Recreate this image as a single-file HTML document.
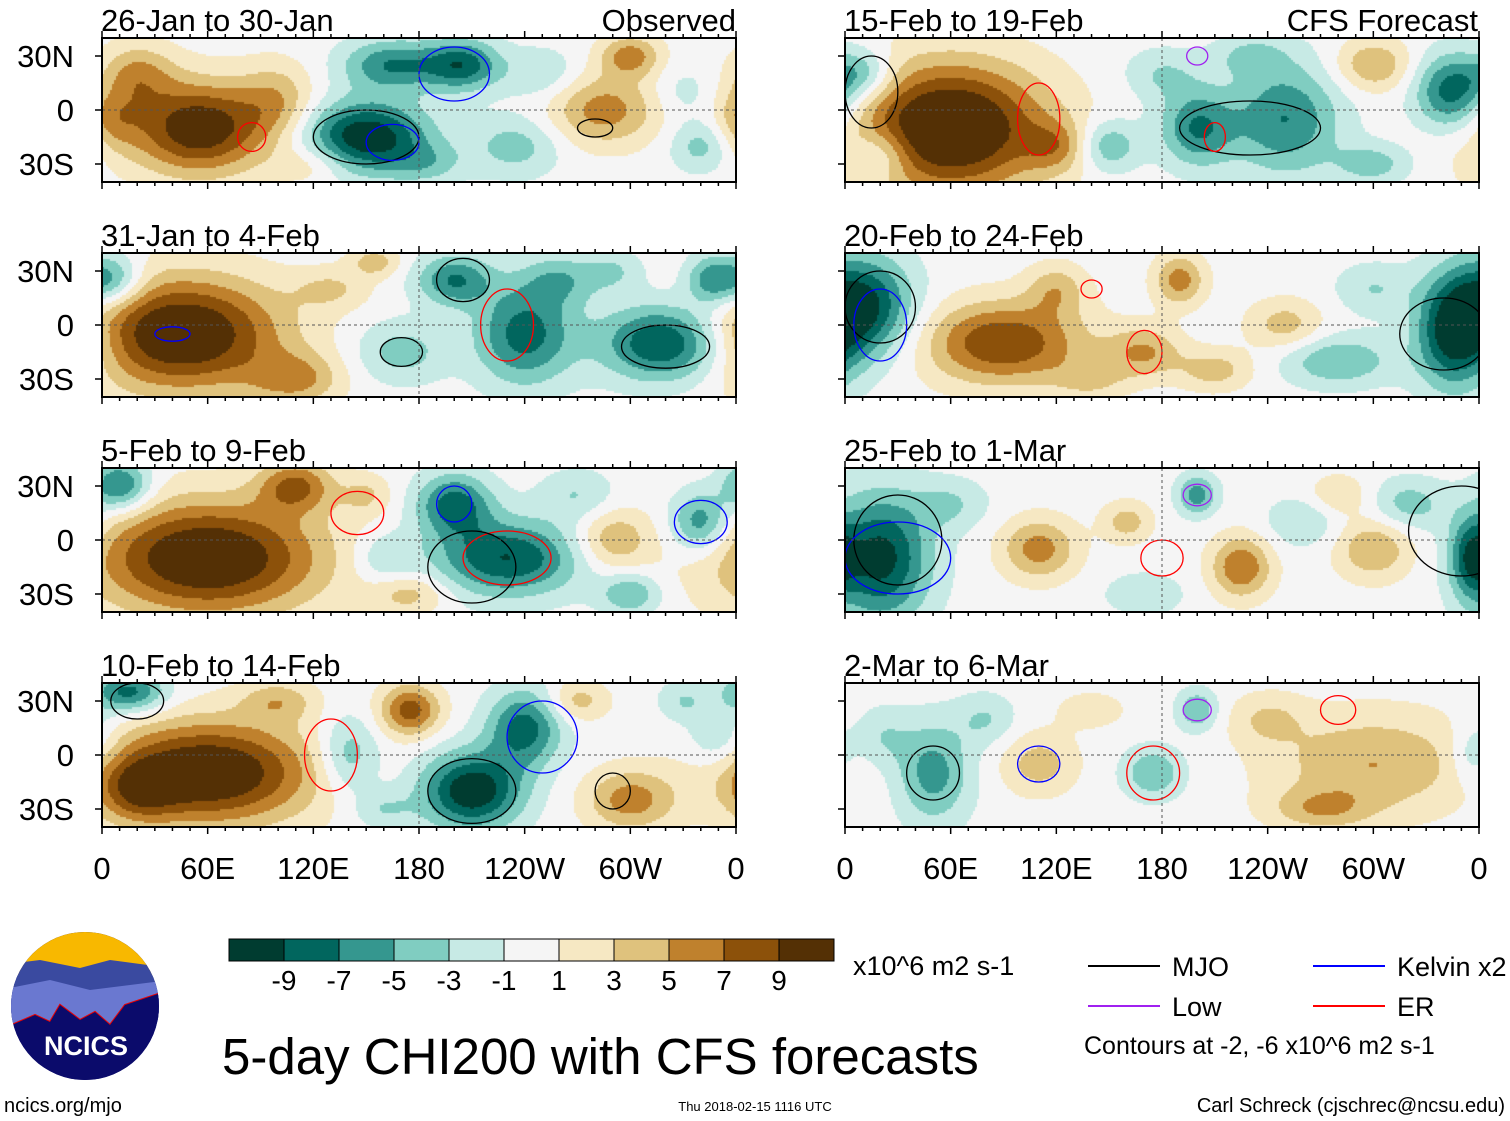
<!DOCTYPE html>
<html><head><meta charset="utf-8"><style>
body{margin:0;background:#fff;width:1510px;height:1121px;overflow:hidden;font-family:"Liberation Sans",sans-serif;}
#root{position:relative;width:1510px;height:1121px;}
</style></head><body>
<div id="root">
<svg id="svg" width="1510" height="1121" style="position:absolute;left:0;top:0"></svg>
</div>
<script>
// ---- data ----
const panelTitles = ["26-Jan to 30-Jan","31-Jan to 4-Feb","5-Feb to 9-Feb","10-Feb to 14-Feb","15-Feb to 19-Feb","20-Feb to 24-Feb","25-Feb to 1-Mar","2-Mar to 6-Mar"];
const xTickLabels = ["0","60E","120E","180","120W","60W","0"];
const xTickLons = [0,60,120,180,240,300,360];
const yTickLabels = ["30N","0","30S"];
const yTickLats = [30,0,-30];
const cbarLabels = ["-9","-7","-5","-3","-1","1","3","5","7","9"];
const cbarColors = ["#003c30","#01665e","#35978f","#80cdc1","#c7eae5","#f5f5f5","#f6e8c3","#dfc27d","#bf812d","#8c510a","#543005"];
// blobs: [lon, lat, amplitude, sigmaLon, sigmaLat]
const blobs0 = [[55,-10,11,28,18],[20,20,5,15,12],[150,-15,-11,25,14],[165,25,-7,20,10],[205,25,-8,15,10],[285,0,6,22,14],[300,30,6,12,8],[235,-20,-4,18,12],[340,-20,-4,12,10],[100,5,4,15,15],[5,-5,4,12,12],[120,-30,3,15,8],[250,20,-3,15,10],[330,10,-2,12,10],[185,-30,-3,15,8]];
const blobs1 = [[45,-5,12,40,22],[5,25,-7,12,10],[110,-30,5,18,10],[200,25,-7,15,10],[240,-5,-8,20,20],[320,-10,-10,25,15],[170,-15,-4,18,12],[155,35,4,10,6],[345,25,-6,10,10],[260,25,-4,15,10],[130,20,3,15,8],[290,30,-3,12,8]];
const blobs2 = [[60,-10,12,45,22],[10,30,-8,12,10],[110,30,7,15,10],[200,20,-8,15,12],[230,-10,-9,30,15],[340,10,-7,12,12],[290,0,5,15,12],[175,-30,4,15,8],[300,-30,-5,12,8],[150,25,3,10,8],[270,25,-3,15,10],[160,-10,-3,12,10]];
const blobs3 = [[60,-10,12,42,20],[15,35,-8,15,8],[175,25,8,12,10],[140,0,-5,12,15],[210,-20,-11,20,15],[240,15,-8,15,15],[300,-25,6,18,12],[270,30,4,12,8],[350,10,-4,12,12],[20,-20,5,15,12],[100,30,4,15,8],[160,-30,-3,12,8],[330,30,-3,10,8]];
const blobs4 = [[60,-10,13,38,25],[10,20,-5,12,10],[200,-10,-7,15,15],[250,-5,-7,22,22],[345,10,-9,15,15],[300,25,5,15,10],[150,-20,-5,12,10],[120,-20,4,12,10],[20,-25,-4,12,10],[180,20,-3,15,10],[230,30,-3,15,8],[300,-30,-4,15,8]];
const blobs5 = [[10,10,-10,20,20],[90,-10,9,32,16],[190,25,6,10,10],[170,-15,5,15,10],[345,-5,-9,15,22],[280,-20,-5,22,10],[250,0,4,15,10],[120,20,4,12,10],[300,20,-3,15,10],[210,-25,4,15,8],[140,-30,3,15,8]];
const blobs6 = [[20,-10,-10,20,25],[110,-5,6,15,12],[225,-15,7,12,12],[200,25,-6,8,8],[300,-5,5,15,12],[320,20,-4,15,10],[160,10,4,10,8],[355,-10,-6,8,15],[60,20,-3,15,10],[260,10,-3,15,10],[170,-30,-3,15,8],[280,25,3,12,8]];
const blobs7 = [[50,-10,-6,15,20],[200,25,-5,8,8],[175,-10,-5,12,10],[300,-5,5,40,20],[110,-5,4,15,12],[270,-30,4,20,8],[80,20,-3,12,10],[20,10,-3,12,12],[240,20,3,15,10],[140,25,2,15,8],[355,0,-3,8,12]];
const allBlobs = [blobs0,blobs1,blobs2,blobs3,blobs4,blobs5,blobs6,blobs7];
// contour rings: [lon, lat, rLon, rLat, type]
const rings0 = [[150,-15,30,15,"MJO"],[200,20,20,15,"Kelvin"],[85,-15,8,8,"ER"],[165,-18,15,10,"Kelvin"],[280,-10,10,5,"MJO"]];
const rings1 = [[170,-15,12,8,"MJO"],[205,25,15,12,"MJO"],[320,-12,25,12,"MJO"],[230,0,15,20,"ER"],[40,-5,10,4,"Kelvin"]];
const rings2 = [[145,15,15,12,"ER"],[230,-10,25,15,"ER"],[210,-15,25,20,"MJO"],[340,10,15,12,"Kelvin"],[200,20,10,10,"Kelvin"]];
const rings3 = [[130,0,15,20,"ER"],[210,-20,25,18,"MJO"],[250,10,20,20,"Kelvin"],[290,-20,10,10,"MJO"],[20,30,15,10,"MJO"]];
const rings4 = [[110,-5,12,20,"ER"],[230,-10,40,15,"MJO"],[200,30,6,5,"Low"],[210,-15,6,8,"ER"],[15,10,15,20,"MJO"]];
const rings5 = [[20,10,20,20,"MJO"],[20,0,15,20,"Kelvin"],[170,-15,10,12,"ER"],[340,-5,25,20,"MJO"],[140,20,6,5,"ER"]];
const rings6 = [[30,0,25,25,"MJO"],[200,25,8,6,"Low"],[180,-10,12,10,"ER"],[350,5,30,25,"MJO"],[30,-10,30,20,"Kelvin"]];
const rings7 = [[50,-10,15,15,"MJO"],[110,-5,12,10,"Kelvin"],[175,-10,15,15,"ER"],[200,25,8,6,"Low"],[280,25,10,8,"ER"]];
const allRings = [rings0,rings1,rings2,rings3,rings4,rings5,rings6,rings7];
const ringColors = {MJO:"#000",Kelvin:"#0000ff",Low:"#a020f0",ER:"#ff0000"};

// ---- layout ----
const NS="http://www.w3.org/2000/svg";
const svg=document.getElementById('svg');
const colX=[102,845], panW=634, panH=144, rowY=[38,253,468,683];
function mk(tag,attrs,parent){const e=document.createElementNS(NS,tag);for(const k in attrs)e.setAttribute(k,attrs[k]);(parent||svg).appendChild(e);return e;}
function xScale(x0,lon){return x0+lon/360*panW;}
function yScale(y0,lat){return y0+panH/2-lat*1.8;}
function field(b,lon,lat){let v=0;for(const p of b){let d=lon-p[0];if(d>180)d-=360;if(d<-180)d+=360;v+=p[2]*Math.exp(-(d*d)/(2*p[3]*p[3])-((lat-p[1])*(lat-p[1]))/(2*p[4]*p[4]));}return v;}
function colorOf(v){let i=Math.floor((v+11)/2);i=Math.max(0,Math.min(10,i));return cbarColors[i];}

for(let p=0;p<8;p++){
  const col=p<4?0:1,row=p%4,x0=colX[col],y0=rowY[row];
  const g=mk('g',{});
  
  
  const cp=mk('clipPath',{id:'pc'+p},g);mk('rect',{x:x0,y:y0,width:panW,height:panH},cp);
  const cv=document.createElement('canvas');cv.width=panW;cv.height=panH;
  const ctx=cv.getContext('2d');const step=2;
  for(let px=0;px<panW;px+=step){for(let py=0;py<panH;py+=step){
    const lon=(px+1)/panW*360, lat=(panH/2-(py+1))/1.8;
    ctx.fillStyle=colorOf(field(allBlobs[p],lon,lat));ctx.fillRect(px,py,step,step);}}
  const im=mk('image',{x:x0,y:y0,width:panW,height:panH,href:cv.toDataURL()},g);
  
  
  const rg=mk('g',{'clip-path':'url(#pc'+p+')'},g);
  for(const r of allRings[p]){
    const e=mk('ellipse',{cx:xScale(x0,r[0]),cy:yScale(y0,r[1]),rx:r[2]/360*panW,ry:r[3]*1.8,fill:'none',stroke:ringColors[r[4]],'stroke-width':1.3},rg);
    
    
  }
  mk('line',{x1:x0,x2:x0+panW,y1:yScale(y0,0),y2:yScale(y0,0),stroke:'#555','stroke-dasharray':'3,3','stroke-width':1},g);
  mk('line',{x1:xScale(x0,180),x2:xScale(x0,180),y1:y0,y2:y0+panH,stroke:'#555','stroke-dasharray':'3,3','stroke-width':1},g);
  mk('rect',{x:x0,y:y0,width:panW,height:panH,fill:'none',stroke:'#000','stroke-width':2},g);
  for(let l=0;l<=360;l+=10){const tx=xScale(x0,l),len=l%60==0?7:4;
    mk('line',{x1:tx,x2:tx,y1:y0,y2:y0-len,stroke:'#000','stroke-width':1.5},g);
    mk('line',{x1:tx,x2:tx,y1:y0+panH,y2:y0+panH+len,stroke:'#000','stroke-width':1.5},g);}
  for(let i=0;i<3;i++){const ty=yScale(y0,yTickLats[i]);mk('line',{x1:x0-7,x2:x0,y1:ty,y2:ty,stroke:'#000','stroke-width':1.5},g);
    if(col==0){const t=mk('text',{x:74,y:ty+11,'font-size':31,'text-anchor':'end','font-family':'Liberation Sans'},g);t.textContent=yTickLabels[i];
    }}
  const tt=mk('text',{x:x0-1,y:y0-7,'font-size':31,'font-family':'Liberation Sans'},g);tt.textContent=panelTitles[p];
  
}
const o=mk('text',{x:736,y:31,'font-size':31,'text-anchor':'end'});o.textContent='Observed';
const f=mk('text',{x:1478,y:31,'font-size':31,'text-anchor':'end'});f.textContent='CFS Forecast';
for(let c=0;c<2;c++)for(let i=0;i<7;i++){const t=mk('text',{x:xScale(colX[c],xTickLons[i]),y:879,'font-size':31,'text-anchor':'middle'});t.textContent=xTickLabels[i];
  }
const cbx=229,cbw=55,cby=939;
for(let i=0;i<11;i++){const r=mk('rect',{x:cbx+i*cbw,y:cby,width:cbw,height:22,fill:cbarColors[i],stroke:'#000','stroke-width':1});
  }
for(let i=0;i<10;i++){const t=mk('text',{x:cbx+(i+1)*cbw,y:990,'font-size':28,'text-anchor':'middle'});t.textContent=cbarLabels[i];
  }
function txt(s,x,y,fs,name,anchor){const t=mk('text',{x:x,y:y,'font-size':fs,'text-anchor':anchor||'start'});t.textContent=s;return t;}
txt('x10^6 m2 s-1',853,975,27,'units-label');
txt('5-day CHI200 with CFS forecasts',222,1074,51,'main-title');
txt('Contours at -2, -6 x10^6 m2 s-1',1084,1054,25,'contour-note');
txt('ncics.org/mjo',4,1112,20,'url-label');
txt('Thu 2018-02-15 1116 UTC',755,1111,13,'timestamp','middle');
txt('Carl Schreck (cjschrec@ncsu.edu)',1505,1112,20,'author-label','end');
const leg=[["MJO","#000",1088,966],["Kelvin x2","#0000ff",1313,966],["Low","#a020f0",1088,1006],["ER","#ff0000",1313,1006]];
for(const l of leg){mk('line',{x1:l[2],x2:l[2]+72,y1:l[3],y2:l[3],stroke:l[1],'stroke-width':2});txt(l[0],l[2]+84,l[3]+10,27,'legend-entry');}
const lg=mk('g',{});
const cp=mk('clipPath',{id:'lc'},lg);mk('circle',{cx:85,cy:1006,r:74},cp);
const cg=mk('g',{'clip-path':'url(#lc)'},lg);
mk('rect',{x:0,y:930,width:170,height:160,fill:'#0b0b6b'},cg);
mk('rect',{x:0,y:930,width:170,height:45,fill:'#f8b800'},cg);
mk('path',{d:'M0 965 L40 960 L80 968 L110 960 L170 968 L170 1030 L0 1030Z',fill:'#3a4aa0'},cg);
mk('path',{d:'M0 990 L50 980 L90 990 L170 980 L170 1030 L0 1030Z',fill:'#6a78d0'},cg);
mk('path',{d:'M0 1030 L35 1015 L50 1022 L60 1005 L80 1020 L95 1012 L110 1025 L125 1005 L170 990',fill:'none',stroke:'#e00','stroke-width':2},cg);
mk('path',{d:'M0 1030 L35 1015 L50 1022 L60 1005 L80 1020 L95 1012 L110 1025 L125 1005 L170 990 L170 1100 L0 1100Z',fill:'#0b0b6b'},cg);
const lt=mk('text',{x:86,y:1055,'font-size':27,'font-weight':'bold','text-anchor':'middle',fill:'#fff'},lg);lt.textContent='NCICS';
</script>
</body></html>
